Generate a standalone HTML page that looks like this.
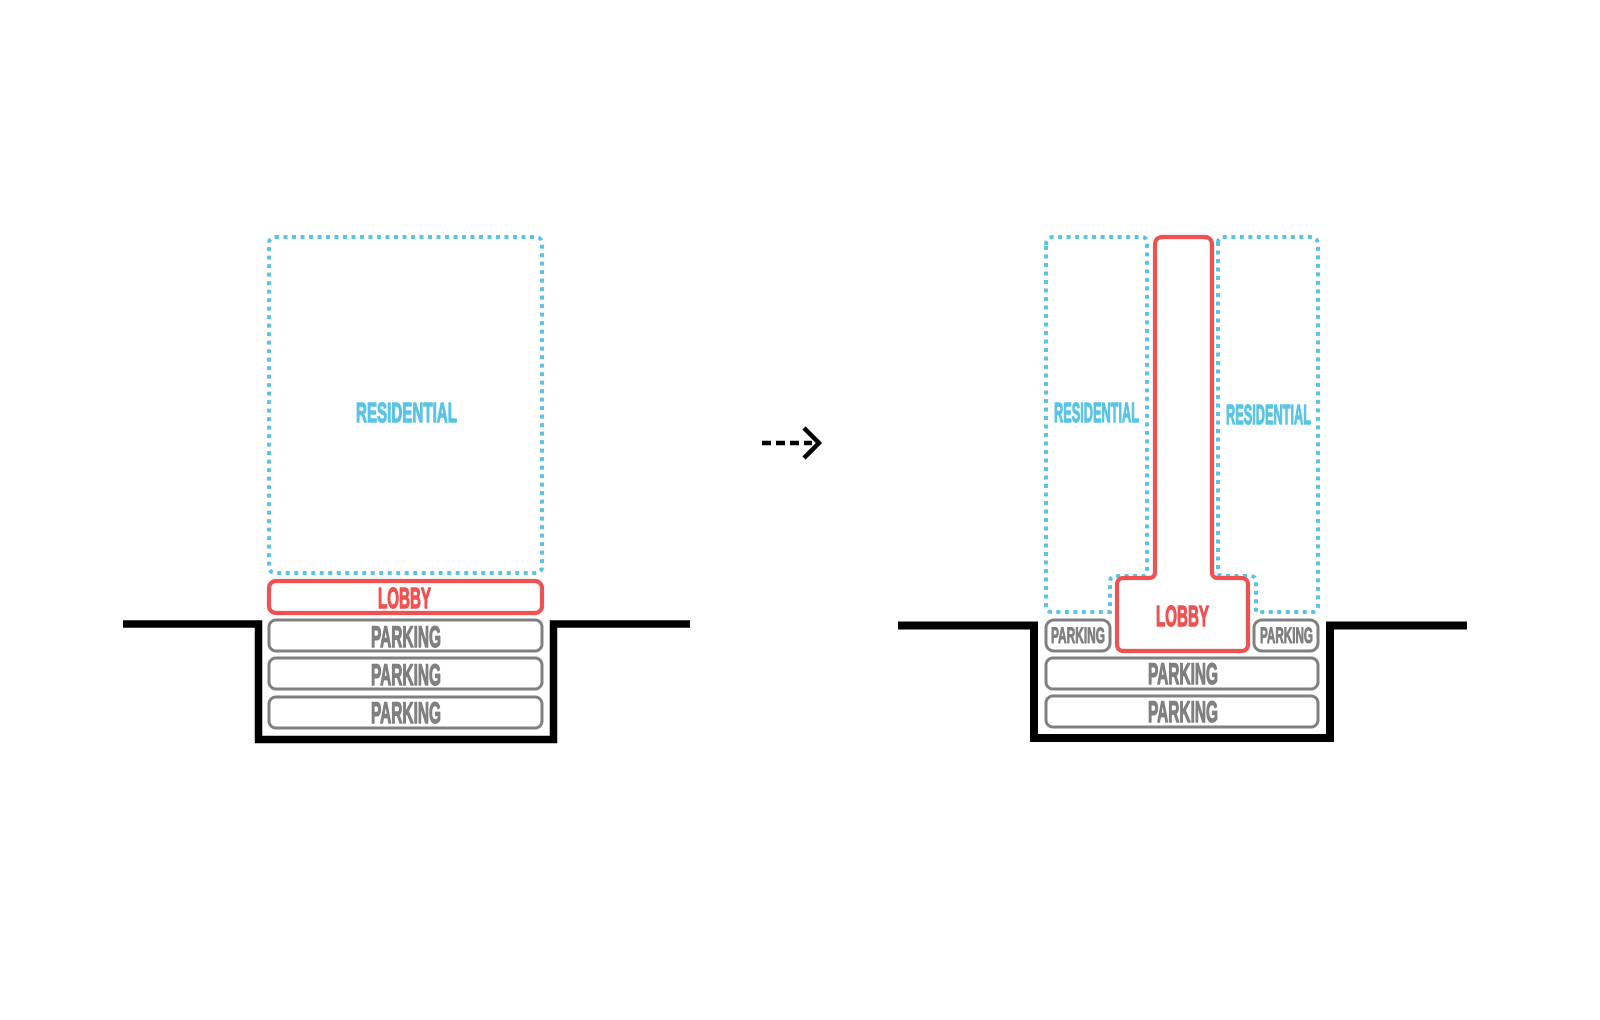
<!DOCTYPE html>
<html><head><meta charset="utf-8"><style>
html,body{margin:0;padding:0;background:#fff;}
svg{display:block;}
text{font-family:"Liberation Sans Narrow","Liberation Sans",sans-serif;font-weight:bold;}
</style></head><body>
<svg width="1600" height="1020" viewBox="0 0 1600 1020" xmlns="http://www.w3.org/2000/svg">
<g fill="none">
<!-- LEFT -->
<rect x="269" y="237" width="273" height="336" rx="6" stroke="#5bc4e6" stroke-width="4" stroke-dasharray="4 4.5"/>
<rect x="269" y="581" width="273" height="32" rx="7" stroke="#f05252" stroke-width="4.2"/>
<rect x="269" y="620" width="273" height="31" rx="7" stroke="#808080" stroke-width="3"/>
<rect x="269" y="658" width="273" height="31" rx="7" stroke="#808080" stroke-width="3"/>
<rect x="269" y="697" width="273" height="31" rx="7" stroke="#808080" stroke-width="3"/>
<path d="M123 624 H258.5 V739.5 H553.5 V624 H690" stroke="#000" stroke-width="7.5"/>

<!-- ARROW -->
<path d="M762 443 H812" stroke="#000" stroke-width="4.5" stroke-dasharray="9 5"/>
<path d="M804 428 L819 443 L804 458" stroke="#000" stroke-width="4.5"/>

<!-- RIGHT -->
<path d="M1046 245 q0 -8 8 -8 H1141 q6 0 6 6 V571 q0 5 -5 5 H1116 q-6 0 -6 6 V612 H1052 q-6 0 -6 -6 Z" stroke="#5bc4e6" stroke-width="4" stroke-dasharray="4 4.5"/>
<path d="M1218 243 q0 -6 6 -6 H1310 q8 0 8 8 V606 q0 6 -6 6 H1256 V582 q0 -6 -6 -6 H1223 q-5 0 -5 -5 Z" stroke="#5bc4e6" stroke-width="4" stroke-dasharray="4 4.5"/>
<path d="M1155 245 q0 -8 8 -8 H1204 q8 0 8 8 V572 q0 6 6 6 H1241 q7 0 7 7 V644 q0 7 -7 7 H1124 q-7 0 -7 -7 V585 q0 -7 7 -7 H1149 q6 0 6 -6 Z" stroke="#f05252" stroke-width="4.2"/>
<rect x="1046" y="620" width="64" height="31" rx="8" stroke="#808080" stroke-width="3"/>
<rect x="1254" y="620" width="64" height="31" rx="8" stroke="#808080" stroke-width="3"/>
<rect x="1046" y="658" width="272" height="31" rx="7" stroke="#808080" stroke-width="3"/>
<rect x="1046" y="696" width="272" height="31" rx="7" stroke="#808080" stroke-width="3"/>
<path d="M898 625.5 H1034 V738 H1330 V625.5 H1467" stroke="#000" stroke-width="8"/>
</g>
<g stroke-width="1.4" stroke-linejoin="round">
<text x="356" y="422" font-size="28" textLength="101" lengthAdjust="spacingAndGlyphs" fill="#5bc4e6" stroke="#5bc4e6">RESIDENTIAL</text>
<text x="378" y="608" font-size="29" textLength="53" lengthAdjust="spacingAndGlyphs" fill="#f05252" stroke="#f05252">LOBBY</text>
<text x="371" y="647" font-size="30" textLength="70" lengthAdjust="spacingAndGlyphs" fill="#808080" stroke="#808080">PARKING</text>
<text x="371" y="685" font-size="30" textLength="70" lengthAdjust="spacingAndGlyphs" fill="#808080" stroke="#808080">PARKING</text>
<text x="371" y="723" font-size="30" textLength="70" lengthAdjust="spacingAndGlyphs" fill="#808080" stroke="#808080">PARKING</text>

<text x="1054" y="422" font-size="28" textLength="85" lengthAdjust="spacingAndGlyphs" fill="#5bc4e6" stroke="#5bc4e6">RESIDENTIAL</text>
<text x="1226" y="424" font-size="28" textLength="85" lengthAdjust="spacingAndGlyphs" fill="#5bc4e6" stroke="#5bc4e6">RESIDENTIAL</text>
<text x="1156" y="626" font-size="29" textLength="53" lengthAdjust="spacingAndGlyphs" fill="#f05252" stroke="#f05252">LOBBY</text>
<text x="1051" y="643" font-size="22" textLength="54" lengthAdjust="spacingAndGlyphs" fill="#808080" stroke="#808080" stroke-width="1.1">PARKING</text>
<text x="1260" y="643" font-size="22" textLength="53" lengthAdjust="spacingAndGlyphs" fill="#808080" stroke="#808080" stroke-width="1.1">PARKING</text>
<text x="1148" y="684" font-size="30" textLength="70" lengthAdjust="spacingAndGlyphs" fill="#808080" stroke="#808080">PARKING</text>
<text x="1148" y="722" font-size="30" textLength="70" lengthAdjust="spacingAndGlyphs" fill="#808080" stroke="#808080">PARKING</text>
</g>
</svg>
</body></html>
